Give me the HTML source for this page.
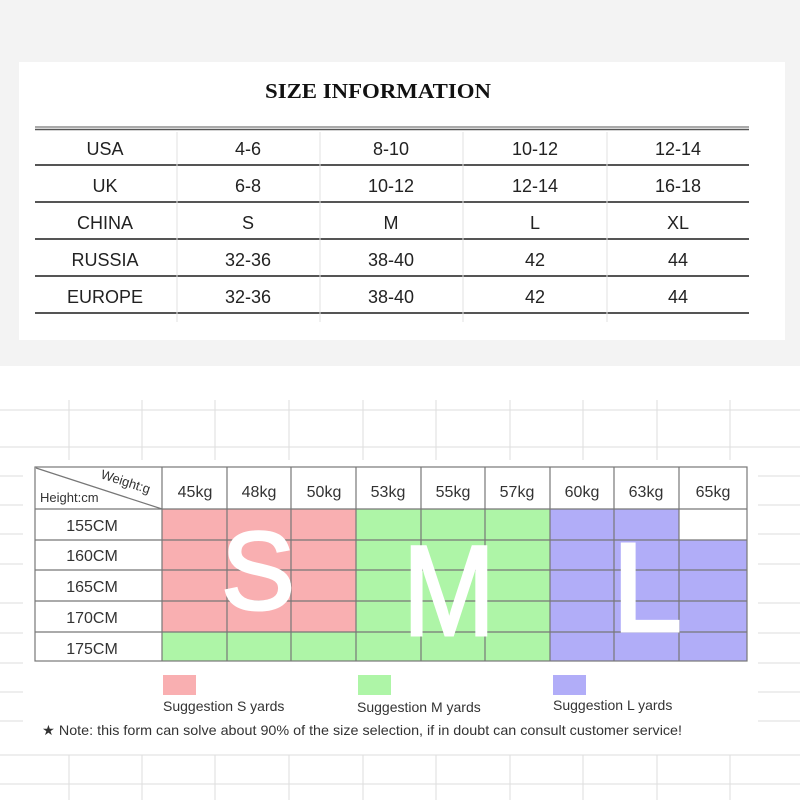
<!DOCTYPE html>
<html><head><style>
body{margin:0;width:800px;height:800px;overflow:hidden;background:#fff;font-family:"Liberation Sans",sans-serif}
</style></head><body>
<svg width="800" height="800" xmlns="http://www.w3.org/2000/svg" font-family="Liberation Sans, sans-serif">
<rect x="0" y="0" width="800" height="366" fill="#f3f3f3"/>
<rect x="19" y="62" width="766" height="278" fill="#fff"/>
<text x="378" y="98" text-anchor="middle" font-family="Liberation Serif, serif" font-size="21" font-weight="bold" fill="#111" textLength="226" lengthAdjust="spacingAndGlyphs">SIZE INFORMATION</text>
<g stroke="#555">
<line x1="35" y1="127" x2="749" y2="127" stroke-width="1"/>
<line x1="35" y1="129.5" x2="749" y2="129.5" stroke-width="1.5"/>
<line x1="35" y1="165" x2="749" y2="165" stroke-width="2"/>
<line x1="35" y1="202" x2="749" y2="202" stroke-width="2"/>
<line x1="35" y1="239" x2="749" y2="239" stroke-width="2"/>
<line x1="35" y1="276" x2="749" y2="276" stroke-width="2"/>
<line x1="35" y1="313" x2="749" y2="313" stroke-width="2"/>
</g>
<g stroke="#e2e2e2"><line x1="177" y1="132" x2="177" y2="322"/><line x1="320" y1="132" x2="320" y2="322"/><line x1="463" y1="132" x2="463" y2="322"/><line x1="607" y1="132" x2="607" y2="322"/></g>
<g font-size="18" fill="#222" text-anchor="middle">
<text x="105" y="155">USA</text><text x="248" y="155">4-6</text><text x="391" y="155">8-10</text><text x="535" y="155">10-12</text><text x="678" y="155">12-14</text>
<text x="105" y="192">UK</text><text x="248" y="192">6-8</text><text x="391" y="192">10-12</text><text x="535" y="192">12-14</text><text x="678" y="192">16-18</text>
<text x="105" y="229">CHINA</text><text x="248" y="229">S</text><text x="391" y="229">M</text><text x="535" y="229">L</text><text x="678" y="229">XL</text>
<text x="105" y="266">RUSSIA</text><text x="248" y="266">32-36</text><text x="391" y="266">38-40</text><text x="535" y="266">42</text><text x="678" y="266">44</text>
<text x="105" y="303">EUROPE</text><text x="248" y="303">32-36</text><text x="391" y="303">38-40</text><text x="535" y="303">42</text><text x="678" y="303">44</text>
</g>
<g stroke="#ddd" stroke-width="1">
<line x1="0" y1="410" x2="800" y2="410"/><line x1="0" y1="447" x2="800" y2="447"/>
<line x1="0" y1="755" x2="800" y2="755"/><line x1="0" y1="784" x2="800" y2="784"/>
<line x1="69" y1="400" x2="69" y2="460"/><line x1="142" y1="400" x2="142" y2="460"/><line x1="215" y1="400" x2="215" y2="460"/><line x1="289" y1="400" x2="289" y2="460"/><line x1="363" y1="400" x2="363" y2="460"/><line x1="436" y1="400" x2="436" y2="460"/><line x1="510" y1="400" x2="510" y2="460"/><line x1="583" y1="400" x2="583" y2="460"/><line x1="657" y1="400" x2="657" y2="460"/><line x1="730" y1="400" x2="730" y2="460"/>
<line x1="69" y1="755" x2="69" y2="800"/><line x1="142" y1="755" x2="142" y2="800"/><line x1="215" y1="755" x2="215" y2="800"/><line x1="289" y1="755" x2="289" y2="800"/><line x1="363" y1="755" x2="363" y2="800"/><line x1="436" y1="755" x2="436" y2="800"/><line x1="510" y1="755" x2="510" y2="800"/><line x1="583" y1="755" x2="583" y2="800"/><line x1="657" y1="755" x2="657" y2="800"/><line x1="730" y1="755" x2="730" y2="800"/>
<g>
<line x1="0" y1="476" x2="23" y2="476"/><line x1="0" y1="505" x2="23" y2="505"/><line x1="0" y1="534" x2="23" y2="534"/><line x1="0" y1="564" x2="23" y2="564"/><line x1="0" y1="603" x2="23" y2="603"/><line x1="0" y1="633" x2="23" y2="633"/><line x1="0" y1="663" x2="23" y2="663"/><line x1="0" y1="692" x2="23" y2="692"/><line x1="0" y1="721" x2="23" y2="721"/>
<line x1="758" y1="476" x2="800" y2="476"/><line x1="758" y1="505" x2="800" y2="505"/><line x1="758" y1="534" x2="800" y2="534"/><line x1="758" y1="564" x2="800" y2="564"/><line x1="758" y1="603" x2="800" y2="603"/><line x1="758" y1="633" x2="800" y2="633"/><line x1="758" y1="663" x2="800" y2="663"/><line x1="758" y1="692" x2="800" y2="692"/><line x1="758" y1="721" x2="800" y2="721"/>
</g></g>
<rect x="162" y="509" width="194" height="123" fill="#f9afb1"/>
<rect x="356" y="509" width="194" height="123" fill="#aef5a7"/>
<rect x="162" y="632" width="388" height="29" fill="#aef5a7"/>
<rect x="550" y="509" width="129" height="152" fill="#b1adf8"/>
<rect x="679" y="540" width="68" height="121" fill="#b1adf8"/>
<g stroke="#777" stroke-width="1.2" fill="none">
<rect x="35" y="467" width="712" height="194"/>
<line x1="35" y1="509" x2="747" y2="509"/><line x1="35" y1="540" x2="747" y2="540"/><line x1="35" y1="570" x2="747" y2="570"/><line x1="35" y1="601" x2="747" y2="601"/><line x1="35" y1="632" x2="747" y2="632"/>
<line x1="162" y1="467" x2="162" y2="661"/><line x1="227" y1="467" x2="227" y2="661"/><line x1="291" y1="467" x2="291" y2="661"/><line x1="356" y1="467" x2="356" y2="661"/><line x1="421" y1="467" x2="421" y2="661"/><line x1="485" y1="467" x2="485" y2="661"/><line x1="550" y1="467" x2="550" y2="661"/><line x1="614" y1="467" x2="614" y2="661"/><line x1="679" y1="467" x2="679" y2="661"/>
<line x1="36" y1="468" x2="162" y2="509"/>
</g>
<text x="100" y="478" font-size="13" fill="#333" transform="rotate(18 100 478)">Weight:g</text>
<text x="40" y="502" font-size="13" fill="#333">Height:cm</text>
<g font-size="16" fill="#333" text-anchor="middle">
<text x="195" y="497">45kg</text><text x="259" y="497">48kg</text><text x="324" y="497">50kg</text><text x="388" y="497">53kg</text><text x="453" y="497">55kg</text><text x="517" y="497">57kg</text><text x="582" y="497">60kg</text><text x="646" y="497">63kg</text><text x="713" y="497">65kg</text>
<text x="92" y="531">155CM</text><text x="92" y="561">160CM</text><text x="92" y="592">165CM</text><text x="92" y="623">170CM</text><text x="92" y="654">175CM</text>
</g>
<g fill="#fff" stroke="#fff" stroke-width="3" text-anchor="middle">
<text x="258" y="609" font-size="110">S</text><text x="449" y="635" font-size="128" textLength="92" lengthAdjust="spacingAndGlyphs">M</text><text x="647" y="631" font-size="126">L</text>
</g>
<rect x="163" y="675" width="33" height="20" fill="#f9afb1"/>
<rect x="358" y="675" width="33" height="20" fill="#aef5a7"/>
<rect x="553" y="675" width="33" height="20" fill="#b1adf8"/>
<g font-size="14" fill="#333">
<text x="163" y="711">Suggestion S yards</text><text x="357" y="712">Suggestion M yards</text><text x="553" y="710">Suggestion L yards</text>
<text x="42" y="735" textLength="640" lengthAdjust="spacingAndGlyphs">★ Note: this form can solve about 90% of the size selection, if in doubt can consult customer service!</text>
</g>
</svg>
</body></html>
